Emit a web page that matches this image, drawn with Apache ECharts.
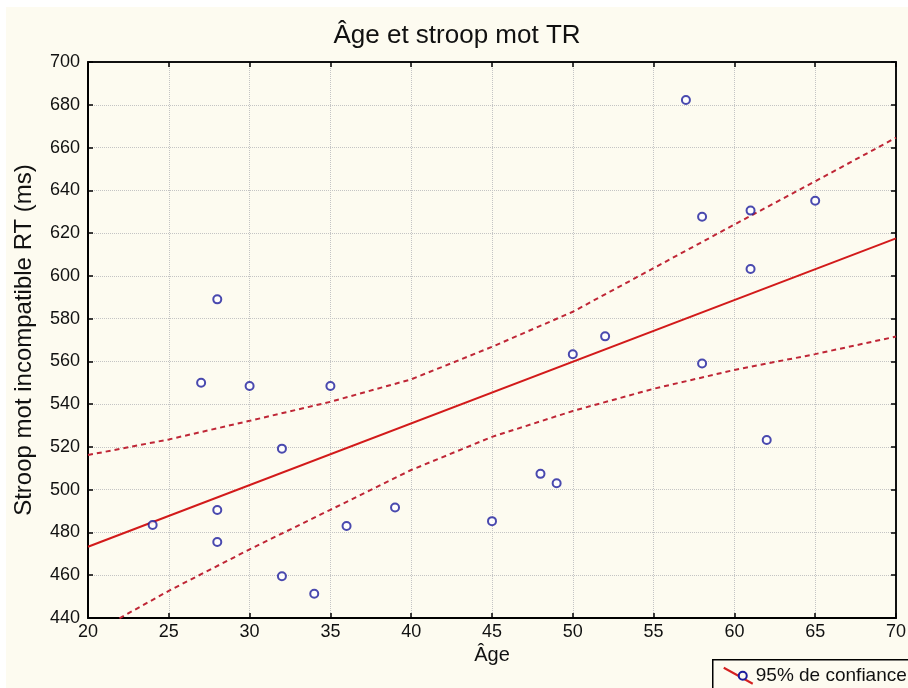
<!DOCTYPE html>
<html>
<head>
    <meta charset="utf-8" />
    <title>Âge et stroop mot TR</title>
    <script src="https://cdn.jsdelivr.net/npm/echarts@6/dist/echarts.min.js"></script>
    <style>
        body { margin: 0; background: #ffffff; }
        #main { position: absolute; left: 6px; top: 7px; width: 902px; height: 681px; }
    </style>
</head>
<body>
    <div id="main"></div>
    <script type="text/javascript">

        // observations: age, stroop RT (ms)
        var ages = [24, 27, 28, 28, 28, 30, 32, 32, 34, 35, 36, 39, 45, 48, 49, 50, 52, 57, 58, 58, 61, 61, 62, 65];
        var rts = [483.5, 550, 589, 490.5, 475.5, 548.5, 519.2, 459.5, 451.3, 548.5, 483, 491.7, 485.3, 507.4, 503, 563.3, 571.7, 682.2, 627.6, 559, 630.5, 603.2, 523.2, 635.1];

        // fitted line and 95% band
        var fitX = [20, 70];
        var fitY = [473.3, 617.5];
        var bandX = [20, 25, 30, 35, 40, 45, 50, 55, 60, 65, 70];
        var upperY = [516.2, 523.5, 532.2, 541.1, 551.6, 566.8, 583.2, 603.6, 624, 644.2, 664.6];
        var lowerY = [431.7, 452.7, 472.1, 490.6, 509.2, 524.7, 536.8, 547.2, 556, 563.4, 571.6];

        var xTicks = { min: 20, max: 70, interval: 5 };
        var yTicks = { min: 440, max: 700, interval: 20 };

        function pairs(xs, ys) {
            return xs.map(function (x, i) { return [x, ys[i]]; });
        }

        var chartDom = document.getElementById('main');
        var myChart = echarts.init(chartDom);
        var font = 'Liberation Sans, Arial, sans-serif';
        var grid = { left: 82, top: 55, width: 808, height: 556, containLabel: false, outerBoundsMode: 'none' };

        function mainAxis(t, name, gap, rot, nameSize) {
            return {
                type: 'value', min: t.min, max: t.max, interval: t.interval,
                name: name, nameLocation: 'middle', nameGap: gap, nameRotate: rot,
                nameTextStyle: { fontFamily: font, fontSize: nameSize, color: '#111' },
                axisLine: { show: true, lineStyle: { color: '#000', width: 2 } },
                axisTick: { show: true, inside: true, length: 5, lineStyle: { color: '#000', width: 1.5 } },
                axisLabel: { fontFamily: font, fontSize: 18, color: '#111', margin: 8 },
                splitLine: { show: true, lineStyle: { color: '#c4c4c4', type: 'dotted', width: 1 } }
            };
        }
        function mirrorAxis(t, pos) {
            return {
                type: 'value', min: t.min, max: t.max, interval: t.interval, position: pos,
                axisLine: { show: true, onZero: false, lineStyle: { color: '#111', width: 2 } },
                axisTick: { show: true, inside: true, length: 5, lineStyle: { color: '#000', width: 1.5 } },
                axisLabel: { show: false },
                splitLine: { show: false }
            };
        }

        var xBottom = mainAxis(xTicks, 'Âge', 21, 0, 20);
        xBottom.position = 'bottom';
        xBottom.axisLabel.margin = 5;
        var yLeft = mainAxis(yTicks, 'Stroop mot incompatible RT (ms)', 52, 90, 24);
        yLeft.position = 'left';

        var bandStyle = { color: '#bf2636', width: 2, type: [5, 4] };

        var option = {
            backgroundColor: '#fdfbf0',
            animation: false,
            title: {
                text: 'Âge et stroop mot TR',
                left: 'center', top: 16, padding: 0,
                textStyle: { fontFamily: font, fontSize: 26, fontWeight: 'normal', color: '#111' }
            },
            grid: grid,
            xAxis: [xBottom, mirrorAxis(xTicks, 'top')],
            yAxis: [yLeft, mirrorAxis(yTicks, 'right')],
            graphic: [{
                type: 'group', left: 706, top: 652,
                children: [
                    { type: 'rect', shape: { x: 0, y: 0, width: 220, height: 40 }, style: { fill: '#fdfbf0', stroke: '#000', lineWidth: 1.5 } },
                    { type: 'line', shape: { x1: 11, y1: 8, x2: 40, y2: 24 }, style: { stroke: '#d42020', lineWidth: 2 } },
                    { type: 'circle', shape: { cx: 30, cy: 16, r: 4 }, style: { fill: '#fdfbf0', stroke: '#1c1c9c', lineWidth: 2 } },
                    { type: 'text', x: 43, y: 16, style: { text: '95% de confiance', font: '19px ' + font, fill: '#111', verticalAlign: 'middle' } }
                ]
            }],
            series: [{
                type: 'line', data: pairs(bandX, upperY), showSymbol: false, symbol: 'none', clip: true,
                lineStyle: bandStyle, z: 2
            }, {
                type: 'line', data: pairs(bandX, lowerY), showSymbol: false, symbol: 'none', clip: true,
                lineStyle: bandStyle, z: 2
            }, {
                type: 'line', data: pairs(fitX, fitY), showSymbol: false, symbol: 'none', clip: true,
                lineStyle: { color: '#d21a1a', width: 2 }, z: 3
            }, {
                type: 'scatter', data: pairs(ages, rts), symbol: 'circle', symbolSize: 8,
                itemStyle: { color: '#ffffff', borderColor: '#1c1c9c', borderWidth: 2 }, z: 4
            }]
        };

        option && myChart.setOption(option);

    </script>
</body>
</html>
